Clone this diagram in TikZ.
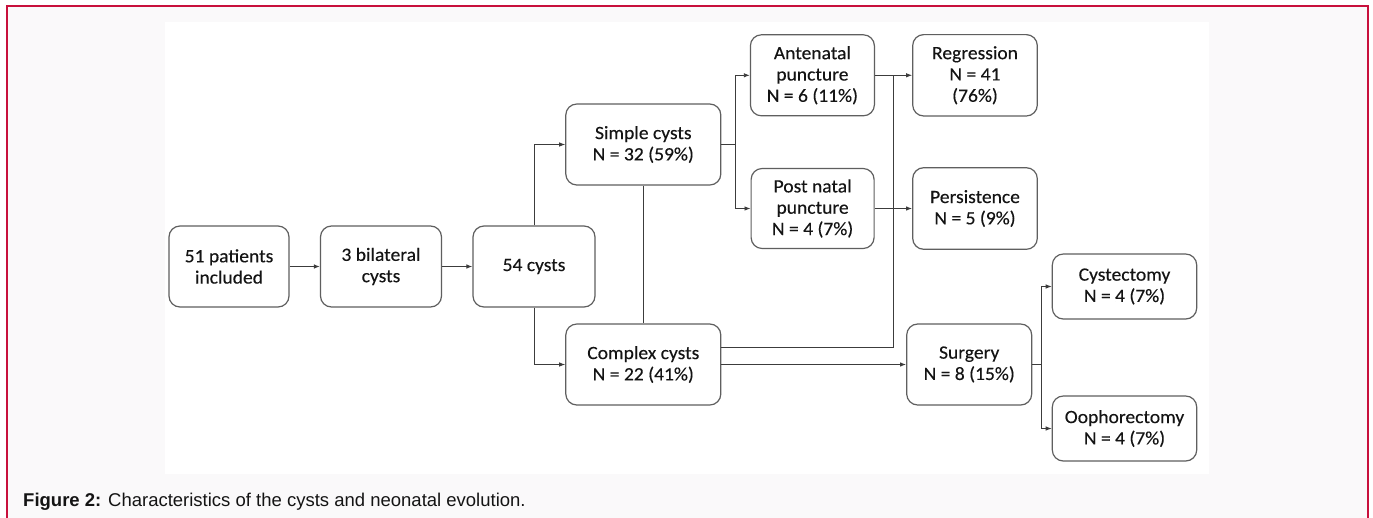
\documentclass[tikz,border=0pt]{standalone}
\usepackage{fontspec}
\setmainfont[FakeStretch=1.04,FakeBold=0.25]{Carlito}
\newfontfamily\capfont{Liberation Sans}
\usetikzlibrary{arrows.meta}
\definecolor{framered}{RGB}{200,16,60}
\definecolor{framebg}{RGB}{250,249,250}
\definecolor{boxline}{RGB}{95,95,95}
\definecolor{conline}{RGB}{60,60,60}
\definecolor{txt}{RGB}{20,20,20}
\tikzset{
  fbox/.style={draw=boxline, line width=1.2pt, rounded corners=11pt, fill=white,
    align=center, inner sep=0pt, text=txt,
    font=\fontsize{18.8}{21.3}\selectfont},
  con/.style={draw=conline, line width=0.9pt},
  arr/.style={con, -{Latex[length=6pt,width=4.5pt]}}
}
\begin{document}
\begin{tikzpicture}[x=1pt,y=-1pt]
\useasboundingbox (0,0) rectangle (1373,517);
% frame
\fill[framebg] (7.3,6) rectangle (1367.7,520);
\fill[white] (165,22) rectangle (1209,474);
\draw[framered, line width=2pt] (7.3,520) -- (7.3,6) -- (1367.7,6) -- (1367.7,520);
% nodes
\node[fbox, minimum width=120pt, minimum height=81pt] (n51) at (229,266.5) {51 patients\\included};
\node[fbox, minimum width=121pt, minimum height=81pt] (n3) at (381,266.5) {3 bilateral\\cysts};
\node[fbox, minimum width=122pt, minimum height=81pt] (n54) at (534,266.5) {54 cysts};
\node[fbox, minimum width=155pt, minimum height=81pt] (simple) at (643.3,144.5) {Simple cysts\\N = 32 (59\%)};
\node[fbox, minimum width=155pt, minimum height=81pt] (complex) at (643.3,364.5) {Complex cysts\\N = 22 (41\%)};
\node[fbox, minimum width=124pt, minimum height=81pt] (ante) at (812.4,75.3) {Antenatal\\puncture\\N = 6 (11\%)};
\node[fbox, minimum width=123pt, minimum height=80pt] (post) at (812.6,208.5) {Post natal\\puncture\\N = 4 (7\%)};
\node[fbox, minimum width=124.6pt, minimum height=81.4pt] (regr) at (975,75.3) {Regression\\N = 41\\(76\%)};
\node[fbox, minimum width=124.6pt, minimum height=81.6pt] (pers) at (975,208.5) {Persistence\\N = 5 (9\%)};
\node[fbox, minimum width=125pt, minimum height=81pt] (surg) at (969.2,364.5) {Surgery\\N = 8 (15\%)};
\node[fbox, minimum width=144.4pt, minimum height=65pt] (cyst) at (1124.5,286.5) {Cystectomy\\N = 4 (7\%)};
\node[fbox, minimum width=144.4pt, minimum height=65pt] (ooph) at (1124.5,428.5) {Oophorectomy\\N = 4 (7\%)};
% junctions
\coordinate (j1) at (735.7,144.5);
\coordinate (j2) at (893.3,75.3);
\coordinate (j3) at (1041.7,364.5);
% connectors
\draw[arr] (n51) -- (n3);
\draw[arr] (n3) -- (n54);
\draw[arr] (n54.north) |- (simple.west);
\draw[arr] (n54.south) |- (complex.west);
\draw[con] (simple.south) -- (complex.north);
\draw[con] (simple.east) -- (j1);
\draw[arr] (j1) |- (ante.west);
\draw[arr] (j1) |- (post.west);
\draw[arr] (ante.east) -- (regr.west);
\draw[con] ([yshift=17.5pt]complex.east) -| (j2);
\draw[arr] (post.east) -- (pers.west);
\draw[arr] (complex.east) -- (surg.west);
\draw[con] (surg.east) -- (j3);
\draw[arr] (j3) |- (cyst.west);
\draw[arr] (j3) |- (ooph.west);
% caption
\node[anchor=base west, inner sep=0pt, text=txt, font=\capfont\fontsize{18.5}{21}\selectfont] (cap) at (23,506)
  {\textbf{Figure 2:} Characteristics of the cysts and neonatal evolution.};
\end{tikzpicture}
\end{document}
